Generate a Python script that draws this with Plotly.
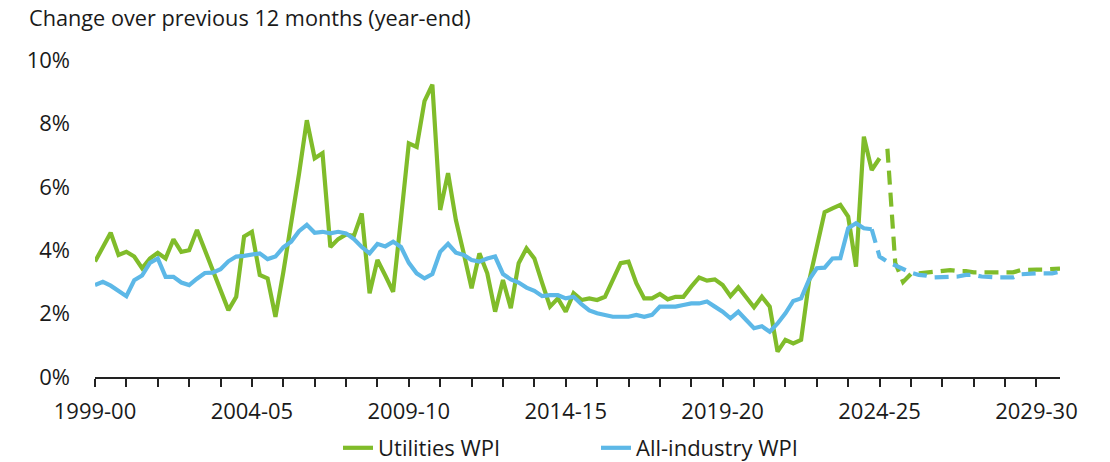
import plotly.graph_objects as go

# ---------------- data (quarterly, year-end change over previous 12 months, %) ----------------
start_year = 1999  # first quarter of 1999-00

utilities_actual = [
    3.64, 4.10, 4.55, 3.85, 3.95, 3.80, 3.43, 3.74, 3.92, 3.74,
    4.34, 3.95, 4.00, 4.64, 4.00, 3.40, 2.75, 2.11, 2.53, 4.43,
    4.58, 3.22, 3.11, 1.90, 3.30, 4.80, 6.40, 8.10, 6.90, 7.06,
    4.10, 4.35, 4.50, 4.45, 5.16, 2.64, 3.69, 3.20, 2.69, 5.00,
    7.37, 7.26, 8.70, 9.22, 5.27, 6.43, 4.95, 3.90, 2.80, 3.90,
    3.27, 2.06, 3.06, 2.17, 3.59, 4.06, 3.74, 2.96, 2.22, 2.48,
    2.06, 2.64, 2.43, 2.48, 2.43, 2.53, 3.06, 3.59, 3.64, 2.96,
    2.48, 2.48, 2.62, 2.45, 2.53, 2.53, 2.85, 3.14, 3.04, 3.08,
    2.90, 2.55, 2.83, 2.53, 2.20, 2.53, 2.22, 0.80, 1.17, 1.06,
    1.17, 3.00, 4.10, 5.20, 5.32, 5.43, 5.06, 3.48, 7.58, 6.53,
    6.90,
]
utilities_projection = [
    7.20, 3.60, 3.00, 3.25, 3.27, 3.30, 3.34, 3.37, 3.37, 3.34,
    3.34, 3.30, 3.30, 3.29, 3.27, 3.29, 3.30, 3.37, 3.39, 3.39,
    3.39, 3.39, 3.42,
]
all_industry_actual = [
    2.90, 3.00, 2.88, 2.72, 2.55, 3.05, 3.20, 3.60, 3.74, 3.16,
    3.16, 2.98, 2.90, 3.10, 3.28, 3.29, 3.40, 3.65, 3.80, 3.82,
    3.87, 3.90, 3.72, 3.80, 4.09, 4.27, 4.60, 4.80, 4.55, 4.58,
    4.53, 4.58, 4.53, 4.35, 4.10, 3.90, 4.20, 4.12, 4.27, 4.10,
    3.60, 3.27, 3.11, 3.25, 3.95, 4.20, 3.92, 3.85, 3.69, 3.64,
    3.74, 3.80, 3.25, 3.08, 2.98, 2.82, 2.72, 2.55, 2.58, 2.58,
    2.48, 2.53, 2.30, 2.10, 2.01, 1.96, 1.90, 1.90, 1.90, 1.96,
    1.90, 1.96, 2.22, 2.22, 2.22, 2.27, 2.32, 2.32, 2.38, 2.22,
    2.06, 1.85, 2.06, 1.80, 1.54, 1.60, 1.43, 1.69, 2.01, 2.40,
    2.48, 3.06, 3.43, 3.45, 3.74, 3.75, 4.69, 4.85, 4.69, 4.66,
]
all_industry_projection = [
    4.66, 3.80, 3.64, 3.53, 3.40, 3.29, 3.22, 3.20, 3.14, 3.14,
    3.14, 3.17, 3.22, 3.22, 3.17, 3.14, 3.14, 3.14, 3.14, 3.24,
    3.27, 3.27, 3.27, 3.27, 3.32,
]

tick_years = [1999, 2004, 2009, 2014, 2019, 2024, 2029]
tick_labels = ["1999-00", "2004-05", "2009-10", "2014-15", "2019-20", "2024-25", "2029-30"]
y_ticks = [0, 2, 4, 6, 8, 10]
y_labels = ["0%", "2%", "4%", "6%", "8%", "10%"]

# ---------------- quarter positions ----------------
n_total = len(utilities_actual) + len(utilities_projection)
quarters = [start_year + q / 4 for q in range(n_total)]
x_util_act = quarters[:len(utilities_actual)]
x_util_proj = quarters[len(utilities_actual):]
ai_start = len(all_industry_actual) - 1
x_ai_act = quarters[:len(all_industry_actual)]
x_ai_proj = quarters[ai_start:ai_start + len(all_industry_projection)]

GREEN = "#80BC2A"
BLUE = "#5DB8E7"
FONT = "Open Sans"
TXT = "#1a1a1a"

fig = go.Figure()
fig.add_trace(go.Scatter(x=x_util_act, y=utilities_actual, mode="lines", name="Utilities WPI",
                         line=dict(color=GREEN, width=4.2)))
fig.add_trace(go.Scatter(x=x_ai_act, y=all_industry_actual, mode="lines", name="All-industry WPI",
                         line=dict(color=BLUE, width=4.2)))
fig.add_trace(go.Scatter(x=x_util_proj, y=utilities_projection, mode="lines", showlegend=False,
                         line=dict(color=GREEN, width=4.2, dash="14px,8px")))
fig.add_trace(go.Scatter(x=x_ai_proj, y=all_industry_projection, mode="lines", showlegend=False,
                         line=dict(color=BLUE, width=4.2, dash="14px,8px")))

fig.update_layout(
    width=1110, height=462,
    margin=dict(l=95, r=50, t=60, b=85),
    paper_bgcolor="white", plot_bgcolor="white",
    font=dict(family=FONT, size=22, color=TXT),
    title=dict(text="Change over previous 12 months (year-end)", x=29 / 1110, xanchor="left",
               xref="container", y=1 - 18 / 462, yanchor="middle", yref="container",
               font=dict(family=FONT, size=21.7, color=TXT)),
    showlegend=True,
    legend=dict(orientation="h", x=338 / 1110, xanchor="left", xref="container",
                y=1 - 448 / 462, yanchor="middle", yref="container",
                font=dict(family=FONT, size=22, color=TXT),
                entrywidth=213, entrywidthmode="pixels", bgcolor="rgba(0,0,0,0)"),
    xaxis=dict(range=[start_year, quarters[-1]], tickmode="array", tickvals=tick_years,
               ticktext=tick_labels, ticks="outside", ticklen=8, tickwidth=1.5, tickcolor="#222",
               showline=True, linecolor="#222", linewidth=1.5, showgrid=False, zeroline=False,
               ticklabelstandoff=6, automargin=False,
               minor=dict(tickmode="linear", tick0=start_year, dtick=1, ticks="outside",
                          ticklen=8, tickwidth=1.5, tickcolor="#222", showgrid=False),
               tickfont=dict(family=FONT, size=22, color=TXT)),
    yaxis=dict(range=[0, 10], tickmode="array", tickvals=y_ticks, ticktext=y_labels,
               showgrid=False, zeroline=False, showline=False, ticks="", automargin=False,
               ticklabelstandoff=24, tickfont=dict(family=FONT, size=22, color=TXT)),
)

fig.write_html("out.html", config={"displayModeBar": False},
               post_script="document.body.style.margin='0';document.body.style.overflow='hidden';")
